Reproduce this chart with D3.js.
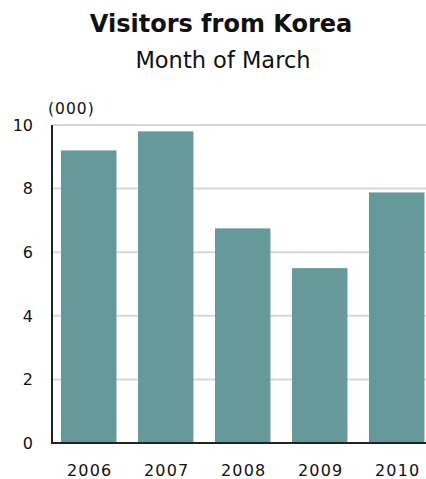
<!DOCTYPE html>
<html><head><meta charset="utf-8">
<script src="https://cdn.jsdelivr.net/npm/d3@7"></script>
<style>html,body{margin:0;padding:0;background:#fff;overflow:hidden}</style>
</head><body>
<script>
const years = ["2006", "2007", "2008", "2009", "2010"];
const visitors = [9.2, 9.8, 6.75, 5.5, 7.88];
const yTicks = [0, 2, 4, 6, 8, 10];
const title = "Visitors from Korea";
const subtitle = "Month of March";
const unitLabel = "(000)";

const W = 426, H = 479;
const svg = d3.select("body").append("svg").attr("width", W).attr("height", H);

const x0 = 52, step = 77, pIn = 0.28, pOut = 0.117;
const x = d3.scaleBand().domain(years)
  .range([x0, x0 + step * (years.length - pIn + 2 * pOut)])
  .paddingInner(pIn).paddingOuter(pOut);
const y = d3.scaleLinear().domain([0, 10]).range([443, 125]);

// gridlines
svg.append("g").selectAll("line").data(yTicks.filter(d => d > 0)).join("line")
  .attr("x1", x0).attr("x2", W)
  .attr("y1", d => y(d)).attr("y2", d => y(d))
  .attr("stroke", "#d8d8d8").attr("stroke-width", 2);

// bars
svg.append("g").selectAll("rect").data(years).join("rect")
  .attr("x", d => x(d)).attr("width", x.bandwidth())
  .attr("y", (d, i) => y(visitors[i]))
  .attr("height", (d, i) => y(0) - y(visitors[i]))
  .attr("fill", "#669999");

// axes lines
svg.append("line").attr("x1", x0).attr("x2", x0).attr("y1", y(10)).attr("y2", y(0) + 1)
  .attr("stroke", "#222").attr("stroke-width", 2);
svg.append("line").attr("x1", x0 - 1).attr("x2", W).attr("y1", y(0)).attr("y2", y(0))
  .attr("stroke", "#222").attr("stroke-width", 2);

// y tick labels
svg.append("g").selectAll("text").data(yTicks).join("text")
  .attr("x", 33).attr("y", d => y(d)).attr("dy", "0.36em")
  .attr("text-anchor", "end")
  .attr("font-family", "DejaVu Sans").attr("font-size", 16).attr("fill", "#111")
  .text(d => d);

// x labels
svg.append("g").selectAll("text").data(years).join("text")
  .attr("x", d => x(d) + x.bandwidth() / 2 + 1).attr("y", 476)
  .attr("text-anchor", "middle")
  .attr("font-family", "DejaVu Sans").attr("font-size", 16).attr("letter-spacing", 1.2)
  .attr("fill", "#111")
  .text(d => d);

// unit label
svg.append("text").attr("x", 48).attr("y", 114)
  .attr("font-family", "DejaVu Sans").attr("font-size", 15.5).attr("letter-spacing", 1)
  .attr("fill", "#111").text(unitLabel);

// titles
svg.append("text").attr("x", 221).attr("y", 32).attr("text-anchor", "middle")
  .attr("font-family", "DejaVu Sans").attr("font-weight", "bold").attr("font-size", 24)
  .attr("fill", "#111").text(title);
svg.append("text").attr("x", 223).attr("y", 68).attr("text-anchor", "middle")
  .attr("font-family", "DejaVu Sans").attr("font-size", 22.5)
  .attr("fill", "#111").text(subtitle);
</script>
</body></html>
